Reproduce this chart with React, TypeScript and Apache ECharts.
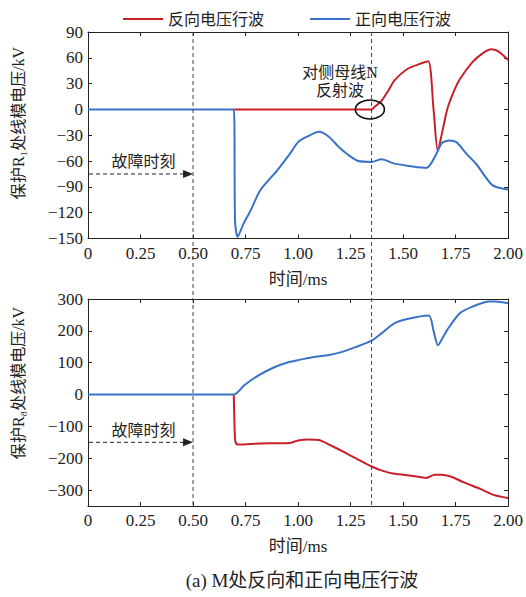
import React, { useEffect, useRef } from 'react';
import * as echarts from 'echarts';

const legendNames = ['反向电压行波', '正向电压行波'];
const xLabelName = '时间/ms';
const yTitleTop = '保护R₁处线模电压/kV';
const yTitleBottom = '保护R₈处线模电压/kV';
const caption = '(a) M处反向和正向电压行波';
const annotFault = '故障时刻';
const annotReflect1 = '对侧母线N';
const annotReflect2 = '反射波';

const bottomYTicks = [-300, -200, -100, 0, 100, 200, 300];

const faultTime = 0.5;
const reflectTime = 1.35;
const faultArrowTop = -75;
const faultArrowBottom = -150;
const reflectMark: [number, number] = [1.342, 0];

const topReverse: [number, number][] = [
  [0.694, 0], [1.35, 0], [1.36, 2], [1.397, 10], [1.43, 22], [1.46, 34], [1.52, 47], [1.58, 53], [1.62, 56],
  [1.645, 0], [1.665, -48], [1.69, -22], [1.71, 0], [1.74, 20], [1.77, 35], [1.83, 55], [1.88, 65.5],
  [1.92, 70], [1.95, 68], [2.0, 57.5],
];
const topForward: [number, number][] = [
  [0, 0], [0.694, 0], [0.70, -130], [0.712, -148], [0.74, -133], [0.775, -117], [0.82, -94], [0.9, -71],
  [0.96, -52], [1.0, -38], [1.04, -32], [1.1, -26], [1.148, -32], [1.195, -44], [1.24, -53], [1.287, -60],
  [1.35, -61], [1.397, -58], [1.46, -63], [1.537, -66], [1.61, -68], [1.63, -64], [1.66, -51], [1.685, -39],
  [1.72, -36], [1.754, -38], [1.8, -51], [1.85, -64], [1.925, -88], [2.0, -93],
];
const bottomReverse: [number, number][] = [
  [0.694, 0], [0.70, -140], [0.706, -155], [0.716, -157], [0.775, -155], [0.868, -153], [0.962, -152],
  [1.0, -144], [1.05, -141], [1.1, -143], [1.157, -160], [1.22, -181], [1.28, -202], [1.35, -226], [1.4, -239],
  [1.46, -249], [1.54, -255], [1.61, -262], [1.65, -252], [1.68, -252], [1.73, -258], [1.79, -276],
  [1.87, -297], [1.93, -315], [2.0, -325],
];
const bottomForward: [number, number][] = [
  [0, 0], [0.694, 0], [0.744, 29], [0.806, 58], [0.884, 85], [0.946, 100], [1.0, 108], [1.07, 117],
  [1.148, 124], [1.21, 134], [1.27, 148], [1.35, 169], [1.397, 192], [1.46, 224], [1.52, 237], [1.622, 248],
  [1.645, 200], [1.666, 155], [1.69, 180], [1.71, 203], [1.77, 255], [1.83, 276], [1.91, 292], [1.94, 292],
  [2.0, 287],
];

const RED = '#c8202b';
const BLUE = '#3a72c8';
const INK = '#222';
const FONT = 'Times New Roman, Liberation Serif, Noto Sans CJK SC, serif';

const G0 = { left: 88, right: 10, top: 32, height: 206.5 };
const G1 = { left: 88, right: 10, top: 299, height: 207 };

const fmtX = (v: number) => (v === 0 ? '0' : v.toFixed(2));
const fmtY = (v: number) => String(v).replace('-', '−');

function xAx(grid: number, main: boolean) {
  return {
    type: 'value', gridIndex: grid, min: 0, max: 2, interval: 0.25,
    position: main ? 'bottom' : 'top',
    name: main ? xLabelName : '', nameLocation: 'middle', nameGap: 32,
    nameTextStyle: { fontSize: 17, color: INK, fontFamily: FONT },
    axisLine: { show: true, onZero: false, lineStyle: { color: INK, width: 1 } },
    axisTick: { show: true, inside: true, length: 4, lineStyle: { color: INK } },
    axisLabel: { show: main, formatter: fmtX, fontSize: 17, color: INK, fontFamily: FONT, margin: 6 },
    splitLine: { show: false },
  };
}
function yAx(grid: number, main: boolean, min: number, max: number, interval: number, custom?: number[]) {
  const a: any = {
    type: 'value', gridIndex: grid, min, max, interval,
    position: main ? 'left' : 'right',
    axisLine: { show: true, onZero: false, lineStyle: { color: INK, width: 1 } },
    axisTick: { show: true, inside: true, length: 4, lineStyle: { color: INK } },
    axisLabel: { show: main, formatter: fmtY, fontSize: 17, color: INK, fontFamily: FONT, margin: 5, showMaxLabel: true, showMinLabel: true },
    splitLine: { show: false },
  };
  if (custom) {
    delete a.interval;
    a.axisTick.customValues = custom;
    a.axisLabel.customValues = custom;
  }
  return a;
}

function line(name: string, data: [number, number][], color: string, xi: number, yi: number) {
  return {
    type: 'line', name, data, xAxisIndex: xi, yAxisIndex: yi,
    showSymbol: false, symbol: 'none', smooth: 0.25,
    lineStyle: { color, width: 2 }, itemStyle: { color },
  };
}

export default function App() {
  const ref = useRef<HTMLDivElement>(null);
  useEffect(() => {
    if (!ref.current) return;
    const chart = echarts.init(ref.current, undefined, { renderer: 'svg' });
    chart.setOption({
      animation: false,
      backgroundColor: '#fff',
      textStyle: { fontFamily: FONT, color: INK },
      legend: {
        data: legendNames, left: 118, top: 6, itemWidth: 40, itemHeight: 2, itemGap: 46, icon: 'rect',
        textStyle: { fontSize: 16, color: INK, fontFamily: FONT },
      },
      grid: [G0, G1],
      xAxis: [xAx(0, true), xAx(0, false), xAx(1, true), xAx(1, false)],
      yAxis: [
        yAx(0, true, -150, 90, 30), yAx(0, false, -150, 90, 30),
        yAx(1, true, -350, 300, 50, bottomYTicks), yAx(1, false, -350, 300, 50, bottomYTicks),
      ],
      series: [
        line(legendNames[0], topReverse, RED, 0, 0),
        line(legendNames[1], topForward, BLUE, 0, 0),
        line(legendNames[0], bottomReverse, RED, 2, 2),
        line(legendNames[1], bottomForward, BLUE, 2, 2),
      ],
    });

    const px = (xi: number, v: number) => chart.convertToPixel({ xAxisIndex: xi }, v) as number;
    const py = (yi: number, v: number) => chart.convertToPixel({ yAxisIndex: yi }, v) as number;
    const x0 = px(0, 0);
    const xF = px(0, faultTime);
    const xR = px(0, reflectTime);
    const yTopEdge = G0.top;
    const yBotEdge = G1.top + G1.height;
    const yA0 = py(0, faultArrowTop);
    const yA1 = py(2, faultArrowBottom);
    const ex = px(0, reflectMark[0]);
    const ey = py(0, reflectMark[1]);
    const dash = { stroke: INK, lineWidth: 1, lineDash: [4, 3] };
    const txt = (x: number, y: number, text: string, size = 16, extra: any = {}) => ({
      type: 'text', x, y, z: 10, ...extra,
      style: { text, fontSize: size, fill: INK, fontFamily: FONT, align: 'center', verticalAlign: 'middle' },
    });
    const arrow = (y: number) => [
      { type: 'line', z: 10, shape: { x1: x0 + 1, y1: y, x2: xF - 8, y2: y }, style: dash },
      { type: 'polygon', z: 10, shape: { points: [[xF, y], [xF - 10, y - 4], [xF - 10, y + 4]] }, style: { fill: INK } },
    ];
    const plotCx = (G0.left + (526 - G0.right)) / 2;
    chart.setOption({
      graphic: [
        { type: 'line', z: 10, shape: { x1: xF, y1: yTopEdge, x2: xF, y2: yBotEdge }, style: { ...dash, stroke: '#444' } },
        { type: 'line', z: 10, shape: { x1: xR, y1: yTopEdge, x2: xR, y2: yBotEdge }, style: { ...dash, stroke: '#444' } },
        ...arrow(yA0),
        ...arrow(yA1),
        txt((x0 + xF) / 2 + 3, yA0 - 12, annotFault),
        txt((x0 + xF) / 2 + 3, yA1 - 12, annotFault),
        txt(340, 72.5, annotReflect1),
        txt(340, 90.5, annotReflect2),
        { type: 'ellipse', z: 11, shape: { cx: ex, cy: ey, rx: 14.5, ry: 9.5 }, style: { fill: 'none', stroke: '#111', lineWidth: 1.6 } },
        txt(18, 123, yTitleTop, 16, { rotation: Math.PI / 2 }),
        txt(18, 383, yTitleBottom, 16, { rotation: Math.PI / 2 }),
        txt(plotCx, 580, caption, 19),
      ],
    });
    return () => chart.dispose();
  }, []);
  return <div ref={ref} style={{ position: 'fixed', left: 0, top: 0, width: 526, height: 597, background: '#fff' }} />;
}
